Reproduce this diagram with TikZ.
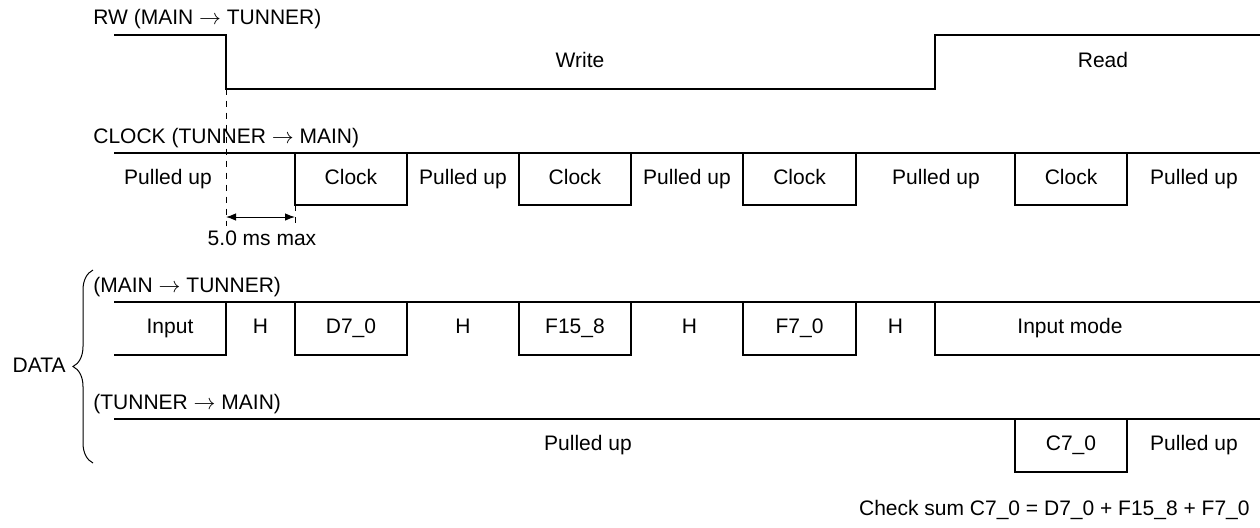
\documentclass[tikz,border=0pt]{standalone}
\usepackage{fontspec}
\setmainfont{Liberation Sans}
\usepackage{tikz}
\usetikzlibrary{decorations.pathreplacing}
\usetikzlibrary{arrows.meta}

\begin{document}
\begin{tikzpicture}[x=5pt,y=-5pt,
  sig/.style={line width=1pt},
  txt/.style={font=\fontsize{10.5}{12}\selectfont,inner sep=0pt,text height=7.6pt,text depth=2.2pt},
  lbl/.style={txt,anchor=west}]
  \useasboundingbox (0,0) rectangle (126,52.7);
  % RW
  \node[lbl] (rwlbl) at (9.3,1.9) {RW (MAIN $\rightarrow$ TUNNER)};
  \draw[sig] (11.4,3.5) -- (22.6,3.5) -- (22.6,8.85) -- (93.5,8.85) -- (93.5,3.5) -- (126,3.5);
  \node[txt] (write) at (58,6.2) {Write};
  \node[txt] (read) at (110.3,6.2) {Read};
  % CLOCK
  \node[lbl] (clklbl) at (9.3,13.8) {CLOCK (TUNNER $\rightarrow$ MAIN)};
  \draw[sig] (11.4,15.3) -- (126,15.3);
  \foreach \a/\b in {29.5/40.7, 51.9/63.1, 74.3/85.6, 101.5/112.7}{
    \draw[sig] (\a,15.3) -- (\a,20.5) -- (\b,20.5) -- (\b,15.3);
    \node[txt] at ({(\a+\b)/2},17.9) {Clock};
  }
  \foreach \x in {16.8,46.3,68.7,93.6,119.4}
    \node[txt] at (\x,17.9) {Pulled up};
  % 5.0 ms
  \coordinate (ta) at (22.6,21.7);
  \coordinate (tb) at (29.5,21.7);
  \draw[dashed,line width=0.5pt] (22.6,8.85) -- (22.6,22.6);
  \draw[dashed,line width=0.5pt] (29.5,20.5) -- (29.5,22.6);
  \draw[{Latex[length=5pt]}-{Latex[length=5pt]},line width=0.5pt] (ta) -- (tb);
  \node[txt] (tmax) at (26.2,24.0) {5.0 ms max};
  % DATA main -> tunner
  \node[lbl] (dmlbl) at (9.3,28.7) {(MAIN $\rightarrow$ TUNNER)};
  \draw[sig] (11.4,30.2) -- (126,30.2);
  \draw[sig] (11.4,35.5) -- (22.6,35.5) -- (22.6,30.2);
  \foreach \a/\b in {29.5/40.7, 51.9/63.1, 74.3/85.6}
    \draw[sig] (\a,30.2) -- (\a,35.5) -- (\b,35.5) -- (\b,30.2);
  \draw[sig] (93.5,30.2) -- (93.5,35.5) -- (126,35.5);
  \node[txt] (din) at (17.0,32.85) {Input};
  \node[txt] at (26.05,32.85) {H};
  \node[txt] at (35.1,32.85) {D7\_0};
  \node[txt] at (46.3,32.85) {H};
  \node[txt] at (57.5,32.85) {F15\_8};
  \node[txt] at (68.95,32.85) {H};
  \node[txt] at (79.95,32.85) {F7\_0};
  \node[txt] at (89.55,32.85) {H};
  \node[txt] (dmode) at (107,32.85) {Input mode};
  % DATA tunner -> main
  \node[lbl] (dtlbl) at (9.3,40.4) {(TUNNER $\rightarrow$ MAIN)};
  \draw[sig] (11.4,41.9) -- (126,41.9);
  \draw[sig] (101.5,41.9) -- (101.5,47.2) -- (112.7,47.2) -- (112.7,41.9);
  \node[txt] at (58.8,44.5) {Pulled up};
  \node[txt] at (107.1,44.5) {C7\_0};
  \node[txt] at (119.4,44.5) {Pulled up};
  % brace
  \draw[line width=0.5pt,decorate,decoration={brace,amplitude=10pt}] (9.3,46.3) -- (9.3,27.0);
  \node[txt,anchor=east] (data) at (6.6,36.7) {DATA};
  \node[txt,anchor=east] (csum) at (125.0,51.0) {Check sum C7\_0 = D7\_0 + F15\_8 + F7\_0};
\end{tikzpicture}
\end{document}
